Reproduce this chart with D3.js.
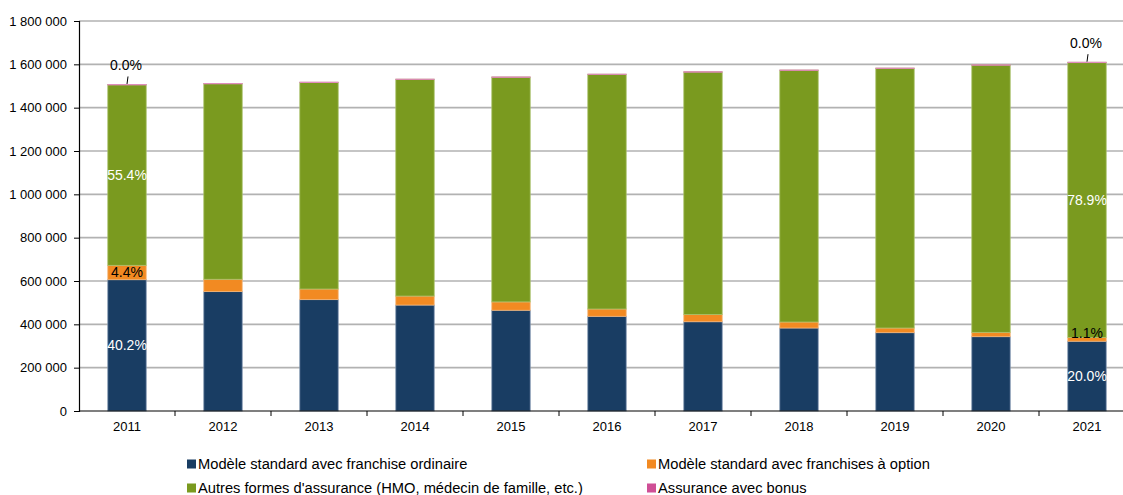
<!DOCTYPE html>
<html>
<head>
<meta charset="utf-8">
<script src="https://cdn.jsdelivr.net/npm/d3@7/dist/d3.min.js"></script>
<style>
  html, body { margin: 0; padding: 0; background: #fff; }
  svg { display: block; font-family: "Liberation Sans", Arial, sans-serif; }
</style>
</head>
<body>
<svg id="chart" width="1123" height="495"></svg>
<script>
// Assurés par forme d'assurance, 2011-2021
const years = ["2011","2012","2013","2014","2015","2016","2017","2018","2019","2020","2021"];
const ordinaire = [606000, 551000, 514000, 489000, 465000, 437000, 412000, 383000, 361500, 343000, 322000];
const option    = [66300, 57000, 49000, 41500, 38500, 33800, 33000, 27700, 21500, 20000, 17700];
const autres    = [834200, 903300, 954200, 1000800, 1037900, 1083500, 1120200, 1162600, 1199400, 1234500, 1269800];
const bonus     = [500, 700, 800, 700, 600, 700, 800, 700, 600, 500, 500];
const yTicks    = [0, 200000, 400000, 600000, 800000, 1000000, 1200000, 1400000, 1600000, 1800000];
const labelledYears = ["2011", "2021"];

const seriesNames = [
  "Modèle standard avec franchise ordinaire",
  "Modèle standard avec franchises à option",
  "Autres formes d'assurance (HMO, médecin de famille, etc.)",
  "Assurance avec bonus"
];
const colors  = ["#193d63", "#f28a22", "#7a9a1f", "#cf4f96"];
const strokes = ["#7d93ad", "#f6b577", "#a9c06a", "#e08cbc"];

const rows = years.map((yr, i) => ({
  year: yr, s0: ordinaire[i], s1: option[i], s2: autres[i], s3: bonus[i]
}));
const keys = ["s0", "s1", "s2", "s3"];
const stacked = d3.stack().keys(keys)(rows);

const svg = d3.select("#chart");
const plotLeft = 79, plotRight = 1135, plotTop = 21, plotBottom = 411;

const x = d3.scaleBand().domain(years).range([plotLeft, plotRight])
  .paddingInner(0.6).paddingOuter(0.3);
const y = d3.scaleLinear().domain([0, 1800000]).range([plotBottom, plotTop]);

// horizontal gridlines
svg.append("g").selectAll("line").data(yTicks.filter(d => d > 0)).join("line")
  .attr("x1", plotLeft).attr("x2", 1123)
  .attr("y1", d => y(d)).attr("y2", d => y(d))
  .attr("stroke", "#b2b2b2").attr("stroke-width", 1.6);

// y axis
const fmt = d => d3.format(",")(d).replace(/,/g, " ");
const yAxis = svg.append("g").attr("transform", `translate(${plotLeft},0)`)
  .call(d3.axisLeft(y).tickValues(yTicks).tickFormat(fmt).tickSize(5).tickPadding(7));
yAxis.select(".domain").attr("stroke", "#000").attr("stroke-width", 1.2);
yAxis.selectAll(".tick line").attr("stroke", "#000");
yAxis.selectAll(".tick text").attr("font-size", 13).attr("fill", "#000")
  .attr("font-family", "'Liberation Sans', Arial, sans-serif");

// stacked bars
svg.append("g").selectAll("g").data(stacked).join("g")
  .attr("fill", (d, i) => colors[i])
  .attr("stroke", (d, i) => strokes[i])
  .attr("stroke-width", 0.8)
  .selectAll("rect").data(d => d).join("rect")
  .attr("x", d => x(d.data.year))
  .attr("width", x.bandwidth())
  .attr("y", d => y(d[1]))
  .attr("height", d => Math.max(0.5, y(d[0]) - y(d[1])));

// x axis
const step = x.step();
svg.append("line").attr("x1", plotLeft).attr("x2", 1123)
  .attr("y1", plotBottom).attr("y2", plotBottom)
  .attr("stroke", "#000").attr("stroke-width", 1.2);
const bounds = years.map(yr => x(yr) + x.bandwidth() / 2 + step / 2);
svg.append("g").selectAll("line").data(bounds).join("line")
  .attr("x1", d => d).attr("x2", d => d)
  .attr("y1", plotBottom).attr("y2", plotBottom + 5)
  .attr("stroke", "#000");
svg.append("g").selectAll("text").data(years).join("text")
  .attr("x", d => x(d) + x.bandwidth() / 2)
  .attr("y", plotBottom + 20)
  .attr("text-anchor", "middle").attr("font-size", 13).attr("fill", "#000")
  .text(d => d);

// percentage labels
const pct = v => d3.format(".1f")(v * 100) + "%";
const lbl = svg.append("g").attr("font-size", 14).attr("text-anchor", "middle");
labelledYears.forEach(yr => {
  const i = years.indexOf(yr);
  const total = ordinaire[i] + option[i] + autres[i] + bonus[i];
  const cx = x(yr) + x.bandwidth() / 2;
  const s = stacked.map(layer => layer[i]);
  // blue segment
  lbl.append("text").attr("x", cx).attr("y", y((s[0][0] + s[0][1]) / 2))
    .attr("dy", "0.35em").attr("fill", "#fff").text(pct(ordinaire[i] / total));
  // orange segment
  const oy = option[i] / total > 0.02 ? y((s[1][0] + s[1][1]) / 2) : y(s[1][1]) - 4;
  lbl.append("text").attr("x", cx).attr("y", oy)
    .attr("dy", "0.35em").attr("fill", "#000").text(pct(option[i] / total));
  // green segment
  lbl.append("text").attr("x", cx).attr("y", y((s[2][0] + s[2][1]) / 2))
    .attr("dy", "0.35em").attr("fill", "#fff").text(pct(autres[i] / total));
  // bonus, with leader line
  const topY = y(s[3][1]);
  lbl.append("line").attr("x1", cx + 1).attr("x2", cx)
    .attr("y1", topY - 8).attr("y2", topY - 0.5)
    .attr("stroke", "#000").attr("stroke-width", 1);
  lbl.append("text").attr("x", cx - 1).attr("y", topY - 19)
    .attr("dy", "0.35em").attr("fill", "#000").text(pct(bonus[i] / total));
});

// legend
const legendPos = [[187, 464], [647, 464], [187, 488], [647, 488]];
const lg = svg.append("g").selectAll("g").data(seriesNames).join("g")
  .attr("transform", (d, i) => `translate(${legendPos[i][0]},${legendPos[i][1]})`);
lg.append("rect").attr("x", 0).attr("y", -4.5).attr("width", 9).attr("height", 9)
  .attr("fill", (d, i) => colors[i]);
lg.append("text").attr("x", 11).attr("dy", "0.35em")
  .attr("font-size", 14.7).attr("fill", "#000").text(d => d);
</script>
</body>
</html>
